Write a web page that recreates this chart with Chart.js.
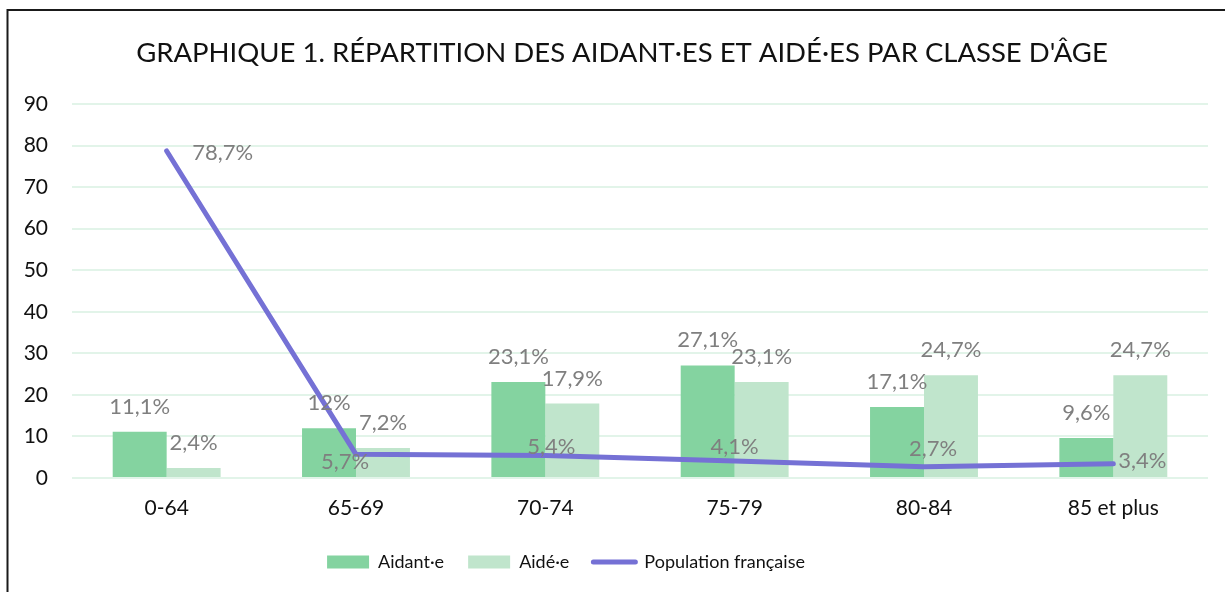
<!DOCTYPE html>
<html>
<head>
<meta charset="utf-8">
<script src="https://cdn.jsdelivr.net/npm/chart.js@4/dist/chart.umd.min.js"></script>
<style>
  html, body { margin: 0; padding: 0; background: #ffffff; }
  #wrap { width: 1225px; height: 592px; position: relative; }
</style>
</head>
<body>
<div id="wrap"><canvas id="c" width="1225" height="592"></canvas></div>
<script>
// ---- Data ----
const categories = ['0-64', '65-69', '70-74', '75-79', '80-84', '85 et plus'];
const aidants = [11.1, 12, 23.1, 27.1, 17.1, 9.6];
const aides = [2.4, 7.2, 17.9, 23.1, 24.7, 24.7];
const populationFrancaise = [78.7, 5.7, 5.4, 4.1, 2.7, 3.4];
const seriesNames = ['Aidant·e', 'Aidé·e', 'Population française'];
const titleText = "GRAPHIQUE 1. RÉPARTITION DES AIDANT·ES ET AIDÉ·ES PAR CLASSE D'ÂGE";

const FONT = 'Lato, "Open Sans", sans-serif';

function fmt(v) { return String(v).replace('.', ',') + '%'; }

// Outer frame like the source image
const framePlugin = {
  id: 'frame',
  beforeDraw(chart) {
    const ctx = chart.ctx;
    ctx.save();
    ctx.fillStyle = '#ffffff';
    ctx.fillRect(0, 0, chart.width, chart.height);
    ctx.strokeStyle = '#1a1a1a';
    ctx.lineWidth = 2;
    ctx.beginPath();
    ctx.moveTo(7.5, chart.height + 5);
    ctx.lineTo(7.5, 10);
    ctx.lineTo(chart.width + 5, 10);
    ctx.stroke();
    ctx.restore();
  }
};

// Block placement tweaks (Excel legend/title are not centred on the canvas)
const blockShiftPlugin = {
  id: 'blockShift',
  afterLayout(chart, args, opts) {
    const lg = chart.legend;
    if (lg) {
      lg.left += opts.legendDx; lg.right += opts.legendDx;
      lg.top += opts.legendDy; lg.bottom += opts.legendDy;
    }
    const tb = chart.titleBlock;
    if (tb) {
      tb.left += opts.titleDx; tb.right += opts.titleDx;
    }
  }
};

// Data labels
const valueLabelPlugin = {
  id: 'valueLabels',
  afterDatasetsDraw(chart, args, opts) {
    const ctx = chart.ctx;
    ctx.save();
    ctx.font = opts.fontSize + 'px ' + FONT;
    ctx.fillStyle = opts.color;
    ctx.textAlign = 'center';
    ctx.textBaseline = 'middle';
    chart.data.datasets.forEach((ds, di) => {
      const meta = chart.getDatasetMeta(di);
      meta.data.forEach((el, i) => {
        const v = ds.data[i];
        let x = el.x, y = el.y;
        if (ds.type === 'line') {
          const off = opts.lineOffsets[i];
          x += off[0]; y += off[1];
        } else {
          y -= opts.barGap;
        }
        ctx.fillText(fmt(v), x, y);
      });
    });
    ctx.restore();
  }
};

const chart = new Chart(document.getElementById('c'), {
  data: {
    labels: categories,
    datasets: [
      {
        type: 'bar',
        label: seriesNames[0],
        data: aidants,
        backgroundColor: '#84d3a0',
        borderWidth: 0,
        order: 2,
        categoryPercentage: 0.57,
        barPercentage: 1.0
      },
      {
        type: 'bar',
        label: seriesNames[1],
        data: aides,
        backgroundColor: '#c0e5cc',
        borderWidth: 0,
        order: 3,
        categoryPercentage: 0.57,
        barPercentage: 1.0
      },
      {
        type: 'line',
        label: seriesNames[2],
        data: populationFrancaise,
        borderColor: '#7571d5',
        backgroundColor: '#7571d5',
        borderWidth: 5,
        borderCapStyle: 'round',
        borderJoinStyle: 'round',
        pointRadius: 0,
        pointHoverRadius: 0,
        tension: 0,
        fill: false,
        order: 1
      }
    ]
  },
  options: {
    responsive: false,
    devicePixelRatio: 1,
    animation: false,
    layout: { padding: { left: 0, right: 17, top: 0, bottom: 0 } },
    scales: {
      x: {
        offset: true,
        grid: { display: false, drawTicks: false },
        border: { display: false },
        ticks: { color: '#111111', font: { family: FONT, size: 21 }, padding: 18, maxRotation: 0 },
        afterFit(scale) { scale.height = 62; }
      },
      y: {
        min: 0,
        max: 90,
        ticks: { stepSize: 10, color: '#111111', font: { family: FONT, size: 21 }, padding: 24 },
        grid: { color: '#e2f4e9', lineWidth: 2, drawTicks: false },
        border: { display: false },
        afterFit(scale) { scale.width = 72; }
      }
    },
    plugins: {
      title: {
        display: true,
        text: titleText,
        color: '#111111',
        font: { family: FONT, size: 27.5, weight: 'normal' },
        padding: { top: 37, bottom: 34 }
      },
      legend: {
        display: true,
        position: 'bottom',
        labels: {
          color: '#111111',
          font: { family: FONT, size: 18 },
          padding: 24,
          usePointStyle: true,
          pointStyleWidth: 42,
          boxHeight: 13,
          sort: (a, b) => a.datasetIndex - b.datasetIndex,
          generateLabels(chart) {
            const items = Chart.defaults.plugins.legend.labels.generateLabels(chart);
            items.forEach((it) => {
              const ds = chart.data.datasets[it.datasetIndex];
              if (ds.type === 'line') {
                it.pointStyle = 'line';
                it.lineWidth = 5;
                it.strokeStyle = ds.borderColor;
                it.lineCap = 'round';
              } else {
                it.pointStyle = 'rect';
                it.lineWidth = 0;
                it.strokeStyle = ds.backgroundColor;
              }
            });
            return items;
          }
        }
      },
      blockShift: { legendDx: -38, legendDy: -11, titleDx: 18 },
      valueLabels: {
        fontSize: 22,
        color: '#7f7f7f',
        barGap: 25,
        lineOffsets: [[56, 2], [-11, 8], [6, -9], [0, -14], [9, -18], [29, -3]]
      },
      tooltip: { enabled: false }
    }
  },
  plugins: [framePlugin, blockShiftPlugin, valueLabelPlugin]
});
</script>
</body>
</html>
